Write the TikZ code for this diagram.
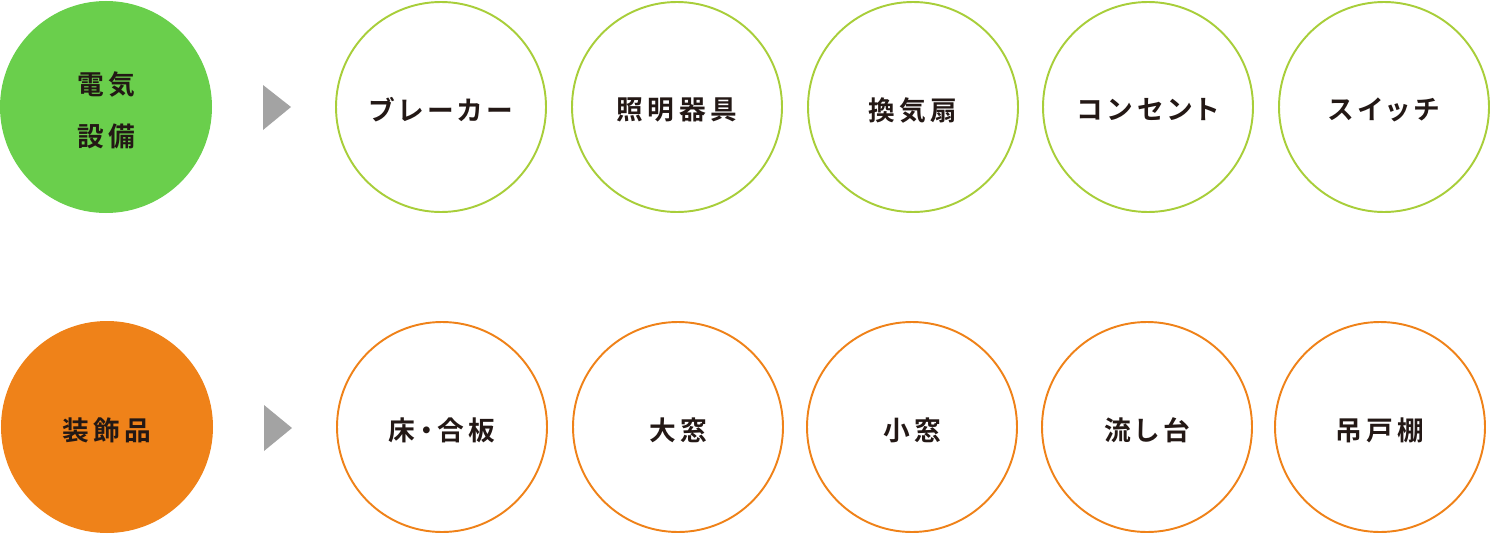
\documentclass[tikz,border=0pt]{standalone}
\usepackage{fontspec}
\usepackage{xcolor}
\usepackage{tikz}
\usetikzlibrary{positioning}
\newfontfamily\jpfont{Noto Sans CJK JP}[LetterSpace=17, RawFeature=+palt, BoldFont={Noto Sans CJK JP Bold}]

\definecolor{denkigreen}{HTML}{6ACF4C}
\definecolor{itemgreen}{HTML}{A8CE3A}
\definecolor{soshokuorange}{HTML}{EF8219}
\definecolor{arrowgray}{HTML}{A3A3A3}
\definecolor{textdark}{HTML}{231815}

\tikzset{
    itemtext/.style={font=\jpfont\bfseries\fontsize{15.2}{29.5}\selectfont, text=textdark, align=center, yshift=-0.06cm},
    headcircle/.style={circle, minimum size=4.24cm, inner sep=0pt},
    itemcircle/.style={circle, draw, fill=white, line width=1.1pt, minimum size=4.2cm, inner sep=0pt}
}

\begin{document}
\begin{tikzpicture}
    \useasboundingbox (0,0) rectangle (29.84,-10.68);

    % Electrical equipment
    \node[headcircle, fill=denkigreen] (denki) at (2.12,-2.14) {};
    \fill[arrowgray] (5.26,-1.70) -- (5.26,-2.60) -- (5.82,-2.14) -- cycle;
    \node[itemcircle, draw=itemgreen] (breaker) at (8.82,-2.14) {};
    \node[itemcircle, draw=itemgreen] (shomei) at (13.54,-2.14) {};
    \node[itemcircle, draw=itemgreen] (kankisen) at (18.26,-2.14) {};
    \node[itemcircle, draw=itemgreen] (outlet) at (22.96,-2.14) {};
    \node[itemcircle, draw=itemgreen] (switch) at (27.68,-2.14) {};

    % Fittings
    \node[headcircle, fill=soshokuorange] (soshoku) at (2.14,-8.54) {};
    \fill[arrowgray] (5.28,-8.10) -- (5.28,-9.02) -- (5.84,-8.56) -- cycle;
    \node[itemcircle, draw=soshokuorange] (yuka) at (8.84,-8.54) {};
    \node[itemcircle, draw=soshokuorange] (omado) at (13.56,-8.54) {};
    \node[itemcircle, draw=soshokuorange] (komado) at (18.24,-8.54) {};
    \node[itemcircle, draw=soshokuorange] (nagashi) at (22.94,-8.54) {};
    \node[itemcircle, draw=soshokuorange] (tsuridana) at (27.60,-8.54) {};

    % Labels
    \node[itemtext] (denkitext) at (denki) {電気\\設備};
    \node[itemtext] (breakertext) at (breaker) {ブレーカー};
    \node[itemtext] (shomeitext) at (shomei) {照明器具};
    \node[itemtext] (kankisentext) at (kankisen) {換気扇};
    \node[itemtext] (outlettext) at (outlet) {コンセント};
    \node[itemtext] (switchtext) at (switch) {スイッチ};
    \node[itemtext] (soshokutext) at (soshoku) {装飾品};
    \node[itemtext] (yukatext) at (yuka) {床・合板};
    \node[itemtext] (omadotext) at (omado) {大窓};
    \node[itemtext] (komadotext) at (komado) {小窓};
    \node[itemtext] (nagashitext) at (nagashi) {流し台};
    \node[itemtext] (tsuridanatext) at (tsuridana) {吊戸棚};
\end{tikzpicture}
\end{document}
